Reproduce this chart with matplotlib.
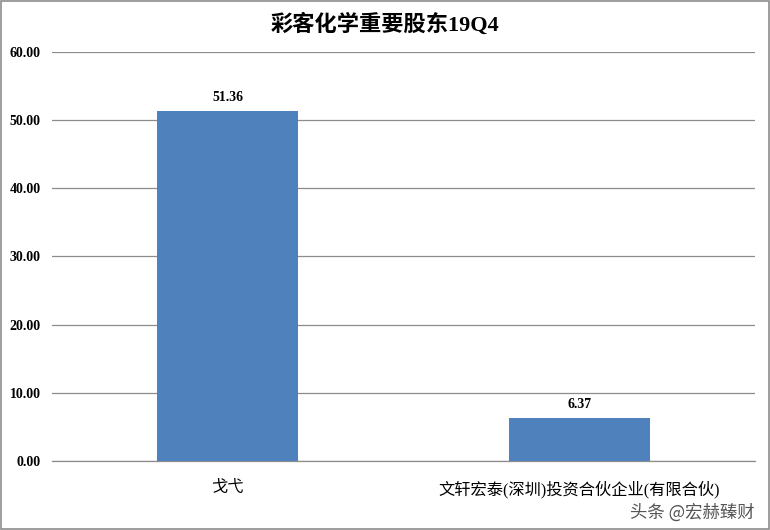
import matplotlib.pyplot as plt
from matplotlib.patches import Rectangle

categories = ["戈弋", "文轩宏泰(深圳)投资合伙企业(有限合伙)"]
values = [51.36, 6.37]
title = "彩客化学重要股东19Q4"
yticks = [0, 10, 20, 30, 40, 50, 60]

SERIF_CJK = ["Liberation Serif", "Noto Sans CJK SC"]

fig = plt.figure(figsize=(7.7, 5.3), dpi=100)
ax = fig.add_axes([0.0675, 0.1302, 0.913, 0.7717])

x = range(len(categories))
bars = ax.bar(x, values, width=0.4, color="#4F81BD", zorder=3)

for b, v in zip(bars, values):
    ax.text(b.get_x() + b.get_width() / 2, v + 1.0, f"{v:.2f}",
            ha="center", va="bottom", fontsize=10, fontweight="bold",
            family="Liberation Serif")

ax.set_xlim(-0.5, len(categories) - 0.5)
ax.set_ylim(0, 60)
ax.set_yticks(yticks)
ax.set_yticklabels([f"{t:.2f}" for t in yticks], fontsize=10,
                   fontweight="bold", family="Liberation Serif")
ax.set_xticks(list(x))
ax.set_xticklabels(categories, fontsize=11.7, family=SERIF_CJK)
ax.tick_params(axis="both", length=0)
ax.tick_params(axis="x", pad=14)
ax.tick_params(axis="y", pad=8)
ax.grid(axis="y", color="#8c8c8c", linewidth=0.9, zorder=0)
for s in ["top", "right", "left"]:
    ax.spines[s].set_visible(False)
ax.spines["bottom"].set_color("#8c8c8c")
ax.spines["bottom"].set_linewidth(0.9)

fig.text(0.5, 0.953, title, ha="center", va="center", fontsize=16,
         fontweight="bold", family=["Liberation Serif", "Noto Sans CJK SC"])

fig.text(0.98, 0.033, "头条 @宏赫臻财", ha="right", va="center",
         fontsize=12.5, color="#555555", family=["Noto Sans CJK SC", "DejaVu Sans"])

fig.patches.append(Rectangle((0.001, 0.001), 0.998, 0.997, transform=fig.transFigure,
                             fill=False, edgecolor="#8c8c8c", linewidth=1.2))

fig.savefig("out.png", dpi=100)
